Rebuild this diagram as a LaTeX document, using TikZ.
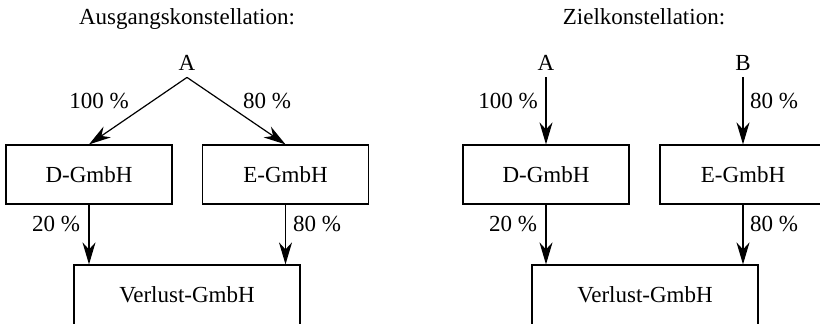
\documentclass[tikz,border=0pt]{standalone}
\usepackage{fontspec}
\setmainfont{Liberation Serif}
\usetikzlibrary{arrows.meta}
\begin{document}
\begin{tikzpicture}[x=0.5pt,y=-0.5pt,
  font=\fontsize{11.5}{13}\selectfont,
  box/.style={draw,line width=0.6pt,minimum width=83pt,minimum height=29.5pt,inner sep=0pt,text depth=0pt},
  bigbox/.style={draw,line width=0.6pt,minimum width=113pt,minimum height=30pt,inner sep=0pt,text depth=0pt},
  lbl/.style={anchor=base,inner sep=0pt},
  top/.style={anchor=base,text depth=0pt,inner sep=3.5pt},
  arr/.style={line width=0.6pt,-{Stealth[length=11pt,width=6.5pt,inset=3.5pt]}}]
\useasboundingbox (0,0) rectangle (820,323);
\clip (0,0) rectangle (820,323);
% left
\node[lbl] (t1) at (187,24) {Ausgangskonstellation:};
\node[top] (A1) at (187,70) {A};
\node[box] (D1) at (89,174.5) {D-GmbH};
\node[box] (E1) at (285.5,174.5) {E-GmbH};
\node[bigbox] (V1) at (187,295) {Verlust-GmbH};
\draw[arr] (A1.south) -- (D1.north);
\draw[arr] (A1.south) -- (E1.north);
\draw[arr] (D1.south) -- (D1.south |- V1.north);
\draw[arr] (E1.south) -- (E1.south |- V1.north);
\node[lbl] (p1) at (99,108) {100 \%};
\node[lbl] (p2) at (267,108) {80 \%};
\node[lbl] (p3) at (56,231) {20 \%};
\node[lbl] (p4) at (317,231) {80 \%};
% right
\node[lbl] (t2) at (644,24) {Zielkonstellation:};
\node[top] (A2) at (546,70) {A};
\node[top] (B2) at (743,70) {B};
\node[box] (D2) at (546,174.5) {D-GmbH};
\node[box] (E2) at (743,174.5) {E-GmbH};
\node[bigbox] (V2) at (645,295) {Verlust-GmbH};
\draw[arr] (A2.south) -- (D2.north);
\draw[arr] (B2.south) -- (E2.north);
\draw[arr] (D2.south) -- (D2.south |- V2.north);
\draw[arr] (E2.south) -- (E2.south |- V2.north);
\node[lbl] (q1) at (508,108) {100 \%};
\node[lbl] (q2) at (774,108) {80 \%};
\node[lbl] (q3) at (513,231) {20 \%};
\node[lbl] (q4) at (774,231) {80 \%};
\end{tikzpicture}
\end{document}
